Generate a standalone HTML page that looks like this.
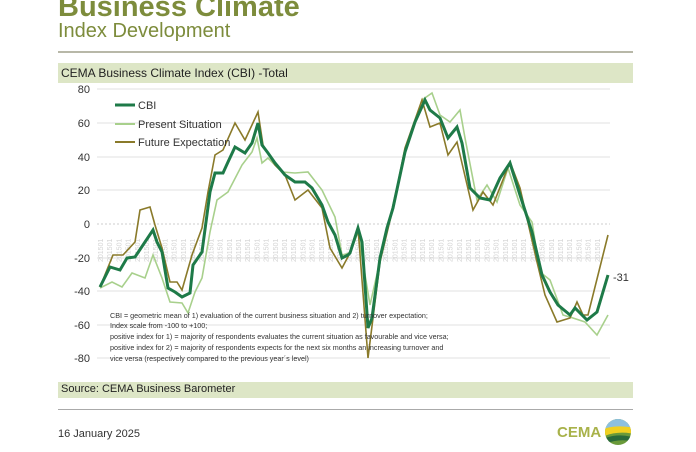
<!DOCTYPE html><html><head><style>
body{margin:0;width:696px;height:452px;background:#fff;overflow:hidden;font-family:"Liberation Sans",sans-serif;position:relative}
.a{position:absolute}
</style></head><body>
<div class="a" style="left:58px;top:-9px;font-size:29px;font-weight:bold;color:#7d8c3c">Business Climate</div>
<div class="a" style="left:58px;top:20px;font-size:20px;color:#7d8c3c">Index Development</div>
<div class="a" style="left:58px;top:51px;width:575px;height:2px;background:#b8b8a8"></div>
<div class="a" style="left:58px;top:63px;width:575px;height:20px;background:#dde6c6"></div>
<div class="a" style="left:61px;top:66px;font-size:12px;color:#222">CEMA Business Climate Index (CBI) -Total</div>
<div class="a" style="left:58px;top:382px;width:575px;height:16px;background:#dde6c6"></div>
<div class="a" style="left:61px;top:383px;font-size:11px;color:#222">Source: CEMA Business Barometer</div>
<div class="a" style="left:58px;top:409px;width:575px;height:1px;background:#aaa"></div>
<div class="a" style="left:58px;top:428px;font-size:11px;color:#333">16 January 2025</div>
<div class="a" style="left:557px;top:424px;font-size:15px;font-weight:bold;color:#a8b24a">CEMA</div>
<svg class="a" style="left:0;top:0" width="696" height="452">
<defs><clipPath id="c"><circle cx="618" cy="432" r="13"/></clipPath></defs>
<g clip-path="url(#c)"><rect x="600" y="415" width="40" height="40" fill="#6a9a3a"/><rect x="600" y="415" width="40" height="13" fill="#8cc0e0"/><path d="M600 430 Q615 424 635 428 L635 434 Q615 430 600 438Z" fill="#f0d020"/><path d="M600 440 Q618 432 635 438 L635 442 Q618 437 600 446Z" fill="#2a6a3a"/></g>
<g font-size="11" fill="#333" text-anchor="end">
<text x="90" y="93">80</text><text x="90" y="127">60</text><text x="90" y="161">40</text><text x="90" y="194">20</text><text x="90" y="228">0</text><text x="90" y="262">-20</text><text x="90" y="295">-40</text><text x="90" y="329">-60</text><text x="90" y="362">-80</text></g>
<g stroke="#e2e2e2" stroke-width="1">
<line x1="97" y1="89" x2="610" y2="89"/><line x1="97" y1="123" x2="610" y2="123"/><line x1="97" y1="157" x2="610" y2="157"/><line x1="97" y1="190" x2="610" y2="190"/><line x1="97" y1="258" x2="610" y2="258"/><line x1="97" y1="291" x2="610" y2="291"/><line x1="97" y1="325" x2="610" y2="325"/><line x1="97" y1="358" x2="610" y2="358"/></g>
<line x1="97" y1="224" x2="610" y2="224" stroke="#ccc" stroke-dasharray="2,2"/>
<g id="dl" font-size="7" fill="#d4d4d4"></g>
<polyline id="ps" fill="none" stroke="#a8d08c" stroke-width="1.6"/>
<polyline id="fe" fill="none" stroke="#8a7a2a" stroke-width="1.6"/>
<polyline id="cb" fill="none" stroke="#1e7a48" stroke-width="3"/>
<g font-size="11" fill="#333"><line x1="115" y1="105" x2="135" y2="105" stroke="#1e7a48" stroke-width="3"/><text x="138" y="109">CBI</text>
<line x1="115" y1="124" x2="135" y2="124" stroke="#a8d08c" stroke-width="2"/><text x="138" y="128">Present Situation</text>
<line x1="115" y1="142" x2="135" y2="142" stroke="#8a7a2a" stroke-width="2"/><text x="138" y="146">Future Expectation</text>
<text x="613" y="281">-31</text></g>
<g font-size="7.2" fill="#333"><text x="110" y="318">CBI = geometric mean of 1) evaluation of the current business situation and 2) turnover expectation;</text>
<text x="110" y="328">Index scale from -100 to +100;</text>
<text x="110" y="339">positive index for 1) = majority of respondents evaluates the current situation as favourable and vice versa;</text>
<text x="110" y="350">positive index for 2) = majority of respondents expects for the next six months an increasing turnover and</text>
<text x="110" y="361">vice versa (respectively compared to the previous year´s level)</text></g>
</svg>
<script>
var C=[[100,287],[110,267],[120,270],[127,258],[135,257],[145,242],[153,230],[157,242],[162,252],[168,288],[175,292],[182,297],[190,293],[193,265],[202,252],[210,192],[215,173],[223,173],[228,162],[235,147],[245,153],[252,143],[258,123],[262,145],[268,153],[275,163],[285,175],[295,182],[305,182],[312,188],[322,205],[328,222],[335,235],[342,258],[348,255],[350,253],[358,228],[362,242],[365,285],[368,328],[372,318],[380,258],[387,228],[393,208],[405,152],[415,122],[425,100],[430,110],[440,118],[448,138],[457,127],[462,143],[470,188],[480,198],[490,200],[500,178],[510,163],[520,195],[532,232],[542,275],[550,292],[558,305],[570,315],[575,308],[587,320],[597,312],[608,275]];
var F=[[100,287],[113,255],[123,255],[135,242],[140,210],[150,207],[155,225],[162,248],[170,282],[177,282],[182,290],[192,255],[202,228],[208,192],[215,155],[223,150],[235,123],[245,140],[258,112],[263,145],[275,165],[285,175],[295,200],[308,190],[322,208],[330,248],[342,268],[350,253],[358,228],[368,358],[380,262],[393,208],[405,148],[422,100],[430,127],[440,123],[448,155],[457,142],[473,210],[483,192],[493,205],[510,162],[520,188],[537,262],[545,295],[557,322],[570,318],[577,302],[583,315],[588,315],[600,267],[608,235]];
var P=[[100,288],[112,282],[122,287],[132,273],[145,278],[153,255],[162,278],[170,302],[182,303],[188,313],[195,292],[202,278],[210,232],[217,200],[228,192],[242,165],[252,152],[257,138],[262,163],[268,158],[282,172],[295,173],[308,172],[322,190],[335,217],[342,255],[350,253],[358,232],[370,305],[382,252],[390,218],[405,152],[422,100],[432,93],[440,115],[450,122],[460,110],[465,138],[477,200],[487,185],[497,202],[508,168],[520,205],[532,222],[540,272],[550,280],[563,315],[573,318],[585,322],[597,335],[608,315]];
function s(a){return a.map(function(p){return p[0]+","+p[1]}).join(" ")}
document.getElementById('cb').setAttribute('points',s(C));
document.getElementById('fe').setAttribute('points',s(F));
document.getElementById('ps').setAttribute('points',s(P));
var g=document.getElementById('dl'),h='';for(var x=103;x<608;x+=9.2){h+='<text transform="translate('+x+',262) rotate(-90)">201501</text>';}g.innerHTML=h;
</script>
</body></html>
